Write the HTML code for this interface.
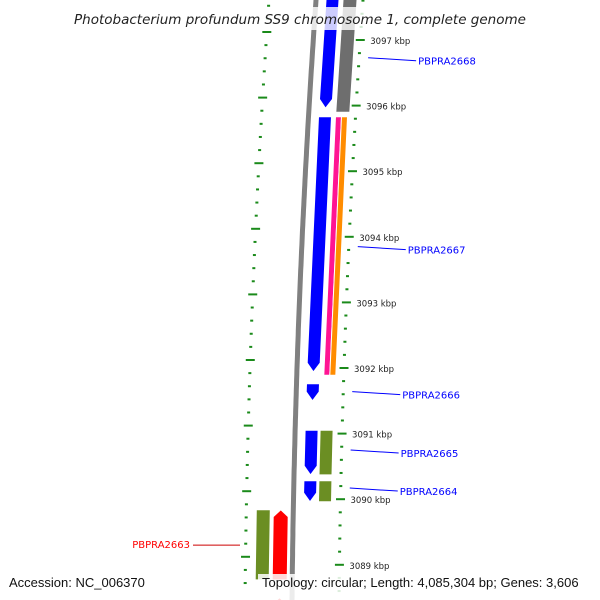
<!DOCTYPE html>
<html><head><meta charset="utf-8"><style>
html,body{margin:0;padding:0;background:#fff;}
svg{display:block;font-family:"DejaVu Sans","Liberation Sans",sans-serif;}
</style></head><body>
<svg id="map" width="600" height="600" viewBox="0 0 600 600" xmlns="http://www.w3.org/2000/svg">
<g id="ticks"></g>
<path id="backbone" fill="none" stroke="#808080" stroke-width="5"/>
<g id="feats"></g>
<g id="labels"></g>
<rect x="66" y="7" width="470" height="23" fill="#fff" opacity="0.8"/>
<text x="300" y="24" text-anchor="middle" font-size="13.5" font-style="italic" fill="#222">Photobacterium profundum SS9 chromosome 1, complete genome</text>
<text x="9" y="587" font-size="13" fill="#111" font-family="Liberation Sans, sans-serif">Accession: NC_006370</text>
<rect x="258" y="574" width="336" height="26" fill="#fff" opacity="0.85"/>
<text x="262" y="587" font-size="13" fill="#111" font-family="Liberation Sans, sans-serif">Topology: circular; Length: 4,085,304 bp; Genes: 3,606</text>
</svg>
<script>
const tickKbp = [3097,3096,3095,3094,3093,3092,3091,3090,3089];
const featStart = [3097.7,3097.7,3095.83,3095.83,3095.83,3091.76,3091.05,3091.05,3090.28,3090.28,3089.84,3089.84,3088.5];
const featEnd   = [3095.96,3095.9,3091.94,3091.89,3091.89,3091.5,3090.37,3090.37,3089.96,3089.96,3088.77,3088.77,3088.3];
const featTrack = ["A","B","A","C","D","A","A","E","A","E","L1","L2","L2"];
const featColor = ["#0000ff","#6e6e6e","#0000ff","#ff1493","#ff8c00","#0000ff","#0000ff","#6b8e23","#0000ff","#6b8e23","#6b8e23","#ff0000","#ff0000"];
const featArrow = ["down","none","down","none","none","down","down","none","down","none","none","up","up"];
const labelNames = ["PBPRA2668","PBPRA2667","PBPRA2666","PBPRA2665","PBPRA2664","PBPRA2663"];
const labelKbp = [3096.73,3093.85,3091.64,3090.75,3090.17,3089.3];
const labelSide = ["r","r","r","r","r","l"];

const NS="http://www.w3.org/2000/svg";
const yOf = k => 40 + (3097 - k) * 65.6;
const bx = y => 316 - 0.07*y + 0.00005*y*y;
const tracks = {A:[10,23],B:[27,41],C:[27,33],D:[33,39],E:[25,38],L1:[-37,-23],L2:[-20,-5]};
function mk(tag, attrs, parent){const e=document.createElementNS(NS,tag);for(const k in attrs)e.setAttribute(k,attrs[k]);parent.appendChild(e);return e;}

let d="";for(let y=-5;y<=605;y+=5){d+=(y===-5?"M":"L")+bx(y).toFixed(1)+","+y;}
document.getElementById("backbone").setAttribute("d",d);

const tg=document.getElementById("ticks");
for(let i=0;i<=45;i++){
  const k=3097.6 - i*0.2;
  const kr=Math.round(k*10)/10;
  const major=Math.abs(kr-Math.round(kr))<0.01;
  const y=yOf(kr);
  if(y<-5||y>605)continue;
  const xr=bx(y)+47, yl=y-8;
  const len=major?9:3;
  const r=mk("line",{x1:xr-len/2,y1:y,x2:xr+len/2,y2:y,stroke:"#1a8a1a","stroke-width":2},tg);
  
  
  const l=mk("line",{x1:bx(yl)-47-len/2,y1:yl,x2:bx(yl)-47+len/2,y2:yl,stroke:"#1a8a1a","stroke-width":2},tg);
  
  
  if(major && tickKbp.indexOf(Math.round(kr))>=0){
    const t=mk("text",{x:xr+10,y:y+4,"font-size":"8.5",fill:"#222"},tg);
    t.textContent=Math.round(kr)+" kbp";
    
    
  }
}

const fg=document.getElementById("feats");
for(let i=0;i<featStart.length;i++){
  const y1=yOf(featStart[i]), y2=yOf(featEnd[i]);
  const [o1,o2]=tracks[featTrack[i]];
  const L=y=>bx(y)+o1, R=y=>bx(y)+o2;
  let pts;
  if(featArrow[i]==="down"){
    const h=y2-9, ym=y2;
    pts=[[L(y1),y1],[R(y1),y1],[R(h),h],[(L(ym)+R(ym))/2,ym],[L(h),h]];
  } else if(featArrow[i]==="up"){
    const h=y1+7;
    pts=[[(L(y1)+R(y1))/2,y1],[R(h),h],[R(y2),y2],[L(y2),y2],[L(h),h]];
  } else {
    pts=[[L(y1),y1],[R(y1),y1],[R(y2),y2],[L(y2),y2]];
  }
  const p=mk("polygon",{points:pts.map(q=>q[0].toFixed(1)+","+q[1].toFixed(1)).join(" "),fill:featColor[i],stroke:"#fff","stroke-width":1},fg);
  
  
}

const lg=document.getElementById("labels");
for(let i=0;i<labelNames.length;i++){
  const y=yOf(labelKbp[i]);
  if(labelSide[i]==="r"){
    const x0=bx(y)+56;
    const ln=mk("line",{x1:x0,y1:y,x2:x0+48,y2:y+3,stroke:"#0000ff","stroke-width":1},lg);
    
    
    const t=mk("text",{x:x0+50,y:y+7,"font-size":"10",fill:"#0000ff"},lg);
    t.textContent=labelNames[i];
    
    
  } else {
    const ln=mk("line",{x1:193,y1:y,x2:240,y2:y,stroke:"#cc0000","stroke-width":1},lg);
    
    
    const t=mk("text",{x:190,y:y+3,"font-size":"10",fill:"#ff0000","text-anchor":"end"},lg);
    t.textContent=labelNames[i];
    
    
  }
}
</script>
</body></html>
